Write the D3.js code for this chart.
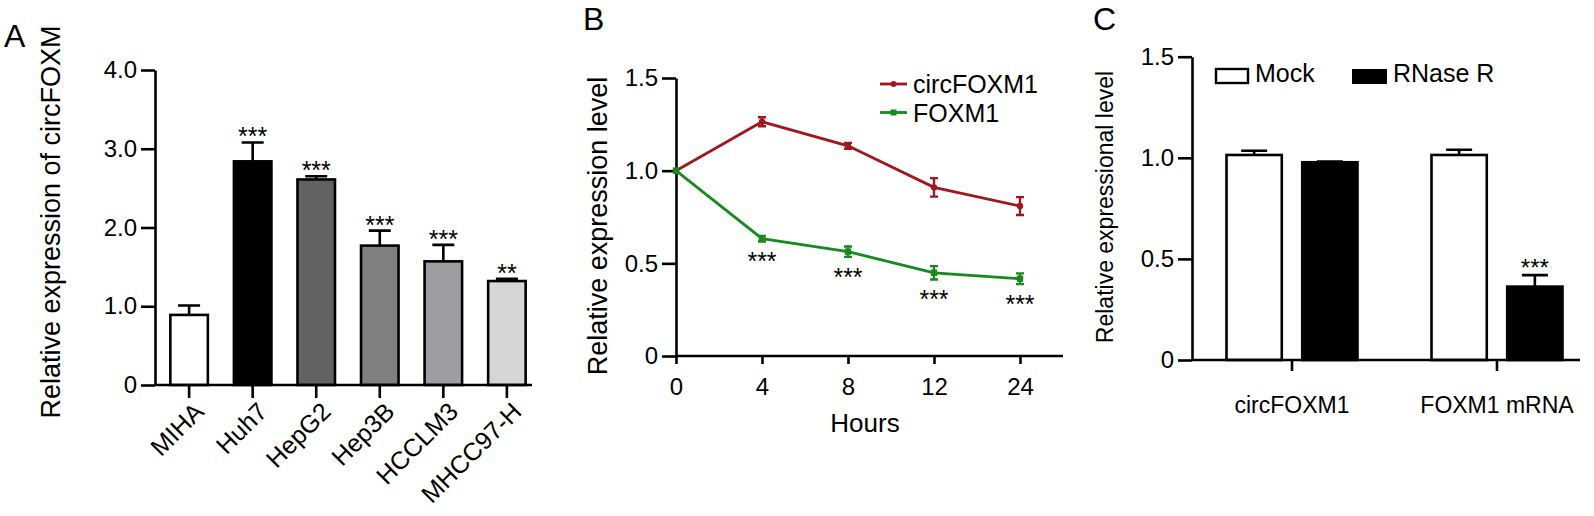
<!DOCTYPE html>
<html>
<head>
<meta charset="utf-8">
<script src="https://cdn.jsdelivr.net/npm/d3@7"></script>
<style>
  body { margin: 0; background: #fff; }
  svg { display: block; font-family: "Liberation Sans", Arial, sans-serif; }
  .axis path, .axis line { stroke: #000; stroke-width: 2.6px; }
  .axis text { fill: #000; }
</style>
</head>
<body>
<svg id="chart" width="1594" height="516"></svg>
<script>
// panel A
let cellLines = ["MIHA", "Huh7", "HepG2", "Hep3B", "HCCLM3", "MHCC97-H"];
let cellMean = [0.89, 2.84, 2.61, 1.77, 1.57, 1.32];
let cellErr = [0.12, 0.24, 0.04, 0.19, 0.21, 0.03];
let cellStars = ["", "***", "***", "***", "***", "**"];
let cellFill = ["#ffffff", "#000000", "#626262", "#808080", "#9d9da2", "#d6d6d6"];
let aTicks = [0, 1, 2, 3, 4];

// panel B
let hours = ["0", "4", "8", "12", "24"];
let circMean = [1.0, 1.264, 1.134, 0.91, 0.809];
let circErr = [0, 0.024, 0.016, 0.05, 0.048];
let foxMean = [1.0, 0.633, 0.563, 0.449, 0.417];
let foxErr = [0, 0.015, 0.028, 0.036, 0.029];
let foxStars = ["", "***", "***", "***", "***"];
let bTicks = [0, 0.5, 1.0, 1.5];

// panel C
let targets = ["circFOXM1", "FOXM1 mRNA"];
let treatments = ["Mock", "RNase R"];
let mockMean = [1.014, 1.014];
let mockErr = [0.021, 0.026];
let rnaseMean = [0.978, 0.363];
let rnaseErr = [0.004, 0.057];
let rnaseStars = ["", "***"];
let cTicks = [0, 0.5, 1.0, 1.5];

let svg = d3.select("#chart");
svg.append("rect").attr("width", 1594).attr("height", 516).attr("fill", "#fff");

function fmt1(d) { return d === 0 ? "0" : d3.format(".1f")(d); }

function panelLetter(t, x, y) {
    svg.append("text").attr("x", x).attr("y", y).attr("font-size", 32).text(t);
}

function yLabel(t, x, y, size) {
    svg.append("text")
        .attr("transform", "translate(" + x + "," + y + ") rotate(-90)")
        .attr("text-anchor", "middle")
        .attr("font-size", size)
        .text(t);
}

// ---------------- A ----------------
panelLetter("A", 4, 47);
let yA = d3.scaleLinear().domain([0, 4]).range([385, 70]);
let xA = d3.scaleBand().domain(cellLines).range([164, 532]).paddingInner(0.41).paddingOuter(0.1);

svg.append("g").attr("class", "axis")
    .attr("transform", "translate(155,0)")
    .call(d3.axisLeft(yA).tickValues(aTicks).tickFormat(fmt1).tickSize(14).tickSizeOuter(0).tickPadding(4))
    .selectAll("text").attr("font-size", 24);

let gA = svg.append("g");
// error bars first (upper only)
gA.selectAll(".errA").data(cellLines).enter().append("path")
    .attr("fill", "none").attr("stroke", "#000").attr("stroke-width", 2.6)
    .attr("d", (d, i) => {
        let cx = xA(d) + xA.bandwidth() / 2, top = yA(cellMean[i] + cellErr[i]);
        return "M" + cx + "," + yA(cellMean[i]) + "V" + top + "M" + (cx - 11) + "," + top + "H" + (cx + 11);
    });
gA.selectAll(".barA").data(cellLines).enter().append("rect")
    .attr("x", d => xA(d))
    .attr("width", xA.bandwidth())
    .attr("y", (d, i) => yA(cellMean[i]))
    .attr("height", (d, i) => yA(0) - yA(cellMean[i]))
    .attr("fill", (d, i) => cellFill[i])
    .attr("stroke", "#000").attr("stroke-width", 2.6);
gA.selectAll(".starA").data(cellLines).enter().append("text")
    .attr("x", d => xA(d) + xA.bandwidth() / 2)
    .attr("y", (d, i) => yA(cellMean[i] + cellErr[i]) + 3)
    .attr("text-anchor", "middle").attr("font-size", 25)
    .text((d, i) => cellStars[i]);

let axA = svg.append("g").attr("class", "axis")
    .attr("transform", "translate(0,385)")
    .call(d3.axisBottom(xA).tickSize(13).tickSizeOuter(0));
axA.select(".domain").attr("d", "M155,0H532");
axA.selectAll("text")
    .attr("font-size", 25)
    .attr("text-anchor", "end")
    .attr("transform", "translate(10,22) rotate(-45)")
    .attr("y", 0).attr("dy", "0.35em");

yLabel("Relative expression of circFOXM", 60, 222, 27);

// ---------------- B ----------------
panelLetter("B", 583, 30);
let yB = d3.scaleLinear().domain([0, 1.5]).range([356, 78]);
let xB = d3.scalePoint().domain(hours).range([676, 1020]);

svg.append("g").attr("class", "axis")
    .attr("transform", "translate(676,0)")
    .call(d3.axisLeft(yB).tickValues(bTicks).tickFormat(fmt1).tickSize(14).tickSizeOuter(0).tickPadding(4))
    .selectAll("text").attr("font-size", 24);

let axB = svg.append("g").attr("class", "axis")
    .attr("transform", "translate(0,356)")
    .call(d3.axisBottom(xB).tickSize(8).tickSizeOuter(0).tickPadding(14));
axB.select(".domain").attr("d", "M676,0H1063");
axB.selectAll("text").attr("font-size", 24);

svg.append("text").attr("x", 865).attr("y", 432).attr("text-anchor", "middle")
    .attr("font-size", 26).text("Hours");

let lineB = d3.line().x((d, i) => xB(hours[i])).y(d => yB(d));

function drawSeries(mean, err, color, marker) {
    let g = svg.append("g");
    g.append("path").datum(mean).attr("d", lineB)
        .attr("fill", "none").attr("stroke", color).attr("stroke-width", 2.8);
    g.selectAll(".eb").data(mean).enter().append("path")
        .attr("fill", "none").attr("stroke", color).attr("stroke-width", 2.4)
        .attr("d", (d, i) => {
            if (err[i] === 0) return null;
            let cx = xB(hours[i]), t = yB(d + err[i]), b = yB(d - err[i]);
            return "M" + cx + "," + t + "V" + b + "M" + (cx - 4) + "," + t + "H" + (cx + 4) +
                "M" + (cx - 4) + "," + b + "H" + (cx + 4);
        });
    if (marker === "circle") {
        g.selectAll(".mk").data(mean).enter().append("circle")
            .attr("cx", (d, i) => xB(hours[i])).attr("cy", d => yB(d)).attr("r", 3.2).attr("fill", color);
    } else {
        g.selectAll(".mk").data(mean).enter().append("rect")
            .attr("x", (d, i) => xB(hours[i]) - 3.2).attr("y", d => yB(d) - 3.2)
            .attr("width", 6.4).attr("height", 6.4).attr("fill", color);
    }
}
drawSeries(circMean, circErr, "#a3161b", "circle");
drawSeries(foxMean, foxErr, "#168a1c", "square");

svg.append("g").selectAll("text").data(foxMean).enter().append("text")
    .attr("x", (d, i) => xB(hours[i]))
    .attr("y", (d, i) => yB(d - foxErr[i]) + 29)
    .attr("text-anchor", "middle").attr("font-size", 25)
    .text((d, i) => foxStars[i]);

// legend B
let legB = [["circFOXM1", "#a3161b", "circle"], ["FOXM1", "#168a1c", "square"]];
legB.forEach((l, i) => {
    let y = 84 + i * 28.5;
    svg.append("line").attr("x1", 880).attr("x2", 907).attr("y1", y).attr("y2", y)
        .attr("stroke", l[1]).attr("stroke-width", 2.8);
    if (l[2] === "circle") {
        svg.append("circle").attr("cx", 893.5).attr("cy", y).attr("r", 3).attr("fill", l[1]);
    } else {
        svg.append("rect").attr("x", 890.5).attr("y", y - 3).attr("width", 6).attr("height", 6).attr("fill", l[1]);
    }
    svg.append("text").attr("x", 913).attr("y", y + 9).attr("font-size", 25).text(l[0]);
});

yLabel("Relative expression level", 607, 226, 27);

// ---------------- C ----------------
panelLetter("C", 1093, 30);
let yC = d3.scaleLinear().domain([0, 1.5]).range([360, 56.7]);
let xC = d3.scaleBand().domain(targets).range([1189.5, 1599.5]);
let xSub = d3.scaleBand().domain(treatments).range([-65.5, 65.5]).paddingInner(0.27);

svg.append("g").attr("class", "axis")
    .attr("transform", "translate(1192,0)")
    .call(d3.axisLeft(yC).tickValues(cTicks).tickFormat(fmt1).tickSize(14).tickSizeOuter(0).tickPadding(4))
    .selectAll("text").attr("font-size", 24);

let gC = svg.append("g");
targets.forEach((t, i) => {
    let cx = xC(t) + xC.bandwidth() / 2;
    let vals = [[mockMean[i], mockErr[i], "#fff"], [rnaseMean[i], rnaseErr[i], "#000"]];
    vals.forEach((v, j) => {
        let x0 = cx + xSub(treatments[j]), w = xSub.bandwidth(), bx = x0 + w / 2;
        let top = yC(v[0] + v[1]);
        gC.append("path").attr("fill", "none").attr("stroke", "#000").attr("stroke-width", 2.6)
            .attr("d", "M" + bx + "," + yC(v[0]) + "V" + top + "M" + (bx - 13) + "," + top + "H" + (bx + 13));
        gC.append("rect").attr("x", x0).attr("width", w)
            .attr("y", yC(v[0])).attr("height", yC(0) - yC(v[0]))
            .attr("fill", v[2]).attr("stroke", "#000").attr("stroke-width", 2.6);
        if (j === 1 && rnaseStars[i]) {
            gC.append("text").attr("x", bx).attr("y", top + 1).attr("text-anchor", "middle")
                .attr("font-size", 24).text(rnaseStars[i]);
        }
    });
});

let axC = svg.append("g").attr("class", "axis")
    .attr("transform", "translate(0,360)")
    .call(d3.axisBottom(xC).tickSize(11).tickSizeOuter(0).tickPadding(26));
axC.select(".domain").attr("d", "M1192,0H1580");
axC.selectAll("text").attr("font-size", 23);

// legend C
svg.append("rect").attr("x", 1216).attr("y", 69).attr("width", 32).attr("height", 14)
    .attr("fill", "#fff").attr("stroke", "#000").attr("stroke-width", 2.4);
svg.append("text").attr("x", 1255).attr("y", 82).attr("font-size", 25).text(treatments[0]);
svg.append("rect").attr("x", 1352).attr("y", 69).attr("width", 35).attr("height", 15).attr("fill", "#000");
svg.append("text").attr("x", 1393).attr("y", 82).attr("font-size", 25).text(treatments[1]);

yLabel("Relative expressional level", 1113, 207, 23);
</script>
</body>
</html>
